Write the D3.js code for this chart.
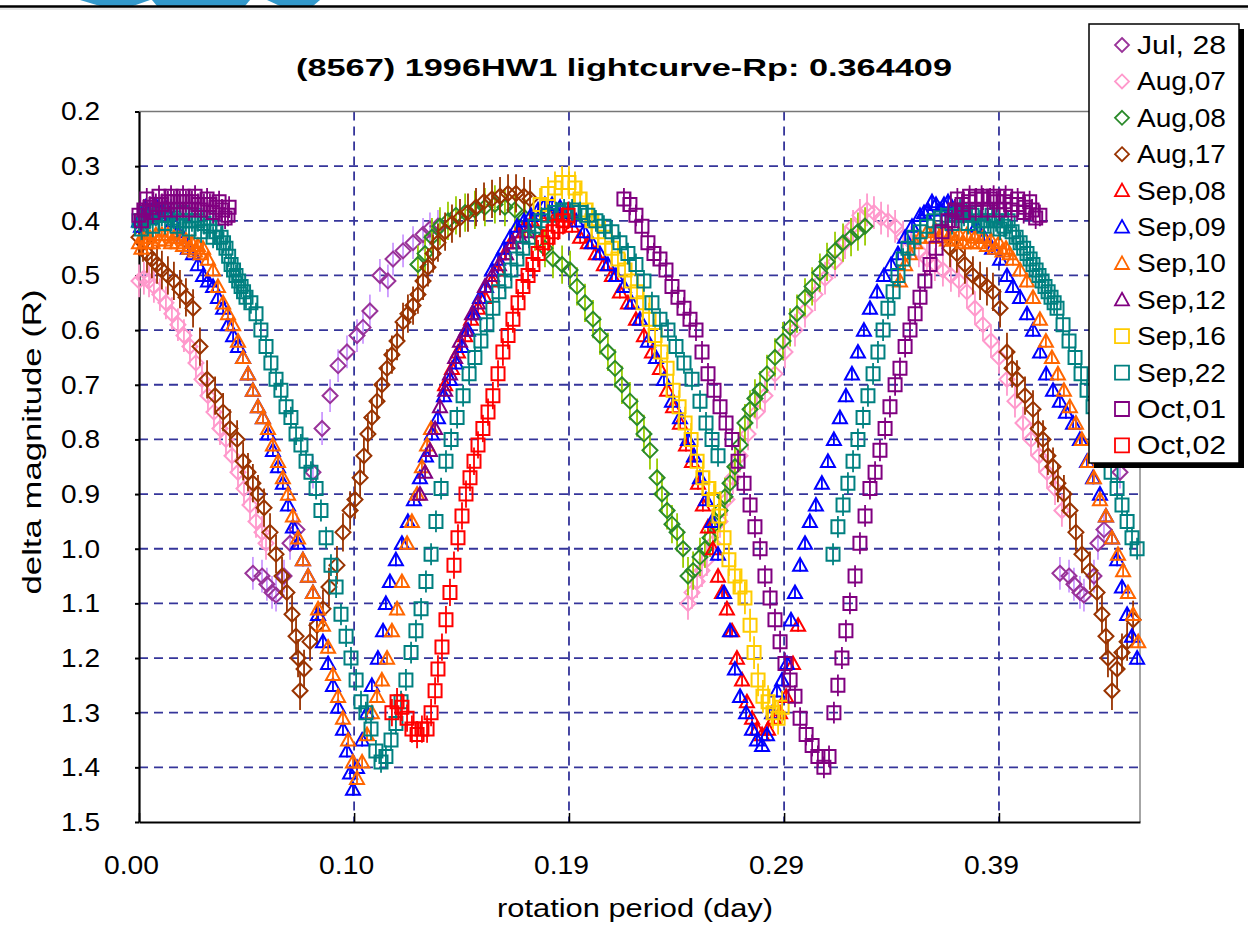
<!DOCTYPE html>
<html>
<head>
<meta charset="utf-8">
<script src="https://cdn.jsdelivr.net/npm/d3@7"></script>
<style>
  body { margin: 0; background: #fff; }
</style>
</head>
<body>
<div id="chart"></div>
<script>
// lightcurve of (8567) 1996HW1: [day, delta mag]
var jul28 = [[0.0512,1.045],[0.0553,1.050],[0.0575,1.065],[0.0598,1.080],[0.0616,1.085],[0.0652,1.050],[0.0679,0.990],[0.0710,0.965],[0.0782,0.860],[0.0823,0.780],[0.0859,0.720],[0.0895,0.665],[0.0935,0.640],[0.0980,0.610],[0.1007,0.595],[0.1038,0.565],[0.1083,0.500],[0.1119,0.510],[0.1142,0.470],[0.1187,0.455],[0.1232,0.440],[0.1277,0.425],[0.1308,0.415],[0.1344,0.410],
  [0.4140,1.045],[0.4181,1.050],[0.4203,1.065],[0.4230,1.080],[0.4248,1.085],[0.4293,1.050],[0.4311,0.990],[0.4338,0.965],[0.4410,0.860],[0.4451,0.780],[0.4487,0.720]];

var aug07 = [[0.0000,0.51],[0.0022,0.505],[0.0045,0.51],[0.0067,0.52],[0.0094,0.535],[0.0121,0.55],[0.0148,0.57],[0.0175,0.59],[0.0202,0.61],[0.0229,0.63],[0.0256,0.66],[0.0283,0.69],[0.0310,0.72],[0.0337,0.75],[0.0364,0.78],[0.0391,0.80],[0.0418,0.83],[0.0445,0.86],[0.0472,0.89],[0.0499,0.92],[0.0526,0.95],[0.0553,0.97],[0.0571,0.99],
  [0.2468,1.10],[0.2486,1.08],[0.2509,1.06],[0.2531,1.04],[0.2553,1.02],[0.2580,0.99],[0.2612,0.95],[0.2643,0.91],[0.2670,0.87],[0.2702,0.83],[0.2738,0.79],[0.2778,0.75],[0.2814,0.72],[0.2859,0.68],[0.2904,0.64],[0.2949,0.60],[0.2994,0.565],[0.3039,0.535],[0.3084,0.505],[0.3129,0.475],[0.3174,0.44],[0.3210,0.41],[0.3241,0.39],[0.3273,0.38],[0.3304,0.385],[0.3336,0.395],[0.3367,0.40],[0.3399,0.41],[0.3435,0.43],[0.3471,0.44],[0.3506,0.455],[0.3542,0.47],[0.3578,0.48],[0.3614,0.49],
  [0.3650,0.50],[0.3686,0.51],[0.3722,0.53],[0.3758,0.56],[0.3794,0.59],[0.3830,0.62],[0.3866,0.65],[0.3902,0.69],[0.3938,0.73],[0.3974,0.77],[0.4010,0.80],[0.4046,0.83],[0.4082,0.86],[0.4118,0.89],[0.4149,0.93]];

var aug08 = [[0.1254,0.48],[0.1286,0.46],[0.1317,0.43],[0.1353,0.41],[0.1389,0.40],[0.1425,0.39],[0.1466,0.385],[0.1510,0.38],[0.1555,0.375],[0.1600,0.37],[0.1645,0.375],[0.1690,0.38],[0.1735,0.395],[0.1780,0.42],[0.1825,0.45],[0.1861,0.47],[0.1902,0.48],[0.1938,0.49],[0.1969,0.52],[0.2005,0.55],[0.2041,0.58],[0.2072,0.61],[0.2108,0.64],[0.2140,0.67],[0.2171,0.70],[0.2207,0.73],[0.2239,0.76],[0.2270,0.79],[0.2297,0.82],[0.2329,0.87],[0.2351,0.90],[0.2374,0.93],[0.2396,0.955],[0.2419,0.97],[0.2446,1.00],[0.2468,1.05],
  [0.2491,1.04],[0.2522,1.015],[0.2544,1.00],[0.2567,0.98],[0.2589,0.955],[0.2612,0.93],[0.2634,0.905],[0.2657,0.88],[0.2679,0.85],[0.2702,0.81],[0.2724,0.77],[0.2747,0.745],[0.2769,0.725],[0.2792,0.71],[0.2823,0.68],[0.2859,0.65],[0.2895,0.62],[0.2927,0.595],[0.2958,0.57],[0.2994,0.54],[0.3026,0.52],[0.3061,0.495],[0.3093,0.475],[0.3129,0.455],[0.3165,0.44],[0.3201,0.43],[0.3232,0.42],[0.3264,0.41]];

var aug17 = [[0.0000,0.43],[0.0018,0.44],[0.0036,0.46],[0.0058,0.47],[0.0081,0.48],[0.0103,0.49],[0.0130,0.50],[0.0157,0.51],[0.0184,0.525],[0.0211,0.54],[0.0243,0.56],[0.0274,0.63],[0.0306,0.69],[0.0342,0.72],[0.0378,0.75],[0.0409,0.78],[0.0441,0.80],[0.0468,0.84],[0.0490,0.86],[0.0512,0.88],[0.0535,0.90],[0.0562,0.925],[0.0589,0.97],[0.0616,1.01],[0.0643,1.05],[0.0665,1.08],[0.0688,1.12],[0.0706,1.16],[0.0715,1.20],[0.0724,1.26],
  [0.0742,1.22],[0.0769,1.17],[0.0800,1.14],[0.0827,1.11],[0.0854,1.07],[0.0890,1.03],[0.0917,0.97],[0.0949,0.93],[0.0971,0.91],[0.0994,0.87],[0.1011,0.83],[0.1029,0.79],[0.1047,0.76],[0.1070,0.73],[0.1092,0.70],[0.1115,0.67],[0.1137,0.645],[0.1160,0.62],[0.1187,0.585],[0.1209,0.57],[0.1232,0.555],[0.1254,0.535],[0.1277,0.51],[0.1299,0.485],[0.1322,0.46],[0.1344,0.44],[0.1376,0.42],[0.1407,0.405],[0.1443,0.395],[0.1479,0.385],[0.1515,0.375],[0.1551,0.365],[0.1587,0.36],[0.1623,0.355],[0.1659,0.35],[0.1695,0.35],[0.1731,0.355],[0.1758,0.36],
  [0.3646,0.45],[0.3677,0.46],[0.3713,0.48],[0.3749,0.50],[0.3781,0.51],[0.3812,0.52],[0.3839,0.53],[0.3871,0.56],[0.3902,0.64],[0.3925,0.67],[0.3947,0.69],[0.3983,0.72],[0.4019,0.745],[0.4042,0.78],[0.4064,0.80],[0.4086,0.83],[0.4109,0.85],[0.4131,0.88],[0.4158,0.90],[0.4185,0.93],[0.4212,0.97],[0.4239,1.01],[0.4275,1.04],[0.4307,1.08],[0.4329,1.12],[0.4347,1.16],[0.4356,1.20],[0.4374,1.26],[0.4397,1.22],[0.4419,1.19],[0.4442,1.17],[0.4469,1.13]];

var sep08 = [[0.1376,0.70],[0.1407,0.67],[0.1434,0.64],[0.1466,0.61],[0.1493,0.58],[0.1524,0.56],[0.1555,0.54],[0.1587,0.51],[0.1614,0.49],[0.1645,0.46],[0.1672,0.44],[0.1704,0.42],[0.1735,0.41],[0.1767,0.40],[0.1803,0.39],[0.1839,0.385],[0.1875,0.39],[0.1911,0.40],[0.1947,0.41],[0.1983,0.43],[0.2018,0.44],[0.2054,0.46],[0.2090,0.48],[0.2126,0.50],[0.2162,0.53],[0.2198,0.55],[0.2234,0.58],[0.2270,0.61],[0.2306,0.64],[0.2342,0.67],[0.2374,0.71],[0.2401,0.74],[0.2432,0.77],[0.2459,0.81],[0.2486,0.84],[0.2513,0.88],[0.2535,0.92],[0.2558,0.96],[0.2580,1.00],[0.2603,1.05],[0.2621,1.08],[0.2643,1.11],[0.2666,1.15],[0.2688,1.20],[0.2711,1.24],[0.2733,1.28],[0.2756,1.31],[0.2778,1.33],[0.2801,1.34],[0.2828,1.33],[0.2855,1.31],[0.2882,1.30],[0.2909,1.27],[0.2940,1.21],[0.2963,1.14]];

var sep09 = [[0.0000,0.40],[0.0018,0.39],[0.0040,0.385],[0.0063,0.38],[0.0085,0.38],[0.0108,0.385],[0.0130,0.39],[0.0153,0.40],[0.0175,0.42],[0.0198,0.43],[0.0220,0.45],[0.0243,0.46],[0.0265,0.48],[0.0288,0.50],[0.0310,0.51],[0.0333,0.52],[0.0355,0.54],[0.0378,0.56],[0.0400,0.59],[0.0423,0.61],[0.0445,0.63],[0.0468,0.65],[0.0490,0.68],[0.0512,0.71],[0.0535,0.74],[0.0557,0.76],[0.0580,0.79],[0.0602,0.82],[0.0625,0.85],[0.0647,0.88],[0.0670,0.92],[0.0692,0.96],[0.0715,0.99],[0.0737,1.02],[0.0760,1.05],[0.0782,1.08],[0.0805,1.12],[0.0827,1.17],[0.0850,1.21],[0.0872,1.25],[0.0895,1.29],[0.0917,1.33],[0.0935,1.37],[0.0949,1.41],[0.0962,1.44],
  [0.0980,1.40],[0.1003,1.35],[0.1025,1.30],[0.1047,1.25],[0.1074,1.20],[0.1097,1.15],[0.1110,1.10],[0.1128,1.06],[0.1155,1.02],[0.1182,0.99],[0.1209,0.95],[0.1236,0.91],[0.1263,0.87],[0.1290,0.83],[0.1317,0.79],[0.1344,0.76],[0.1371,0.72],[0.1398,0.69],[0.1425,0.66],[0.1452,0.63],[0.1479,0.60],[0.1506,0.57],[0.1533,0.54],[0.1560,0.52],[0.1587,0.49],[0.1614,0.47],[0.1641,0.45],[0.1668,0.43],[0.1699,0.41],[0.1731,0.40],[0.1762,0.39],[0.1794,0.38],[0.1825,0.37],[0.1857,0.37],[0.1893,0.375],
  [0.1929,0.385],[0.1965,0.40],[0.2001,0.42],[0.2036,0.44],[0.2072,0.46],[0.2108,0.48],[0.2144,0.50],[0.2180,0.52],[0.2216,0.55],[0.2252,0.58],[0.2288,0.62],[0.2324,0.65],[0.2360,0.69],[0.2396,0.73],[0.2432,0.76],[0.2468,0.80],[0.2495,0.83],[0.2522,0.87],[0.2549,0.91],[0.2576,0.95],[0.2603,1.01],[0.2630,1.08],[0.2657,1.15],[0.2679,1.22],[0.2702,1.27],[0.2729,1.30],[0.2756,1.33],[0.2778,1.35],[0.2801,1.36],[0.2823,1.34],[0.2846,1.30],[0.2868,1.26],[0.2891,1.24],[0.2913,1.21],[0.2931,1.13],[0.2949,1.08],
  [0.2972,1.03],[0.2994,0.99],[0.3016,0.95],[0.3043,0.92],[0.3070,0.88],[0.3097,0.84],[0.3124,0.80],[0.3151,0.76],[0.3178,0.72],[0.3205,0.68],[0.3232,0.64],[0.3259,0.60],[0.3286,0.56],[0.3318,0.53],[0.3349,0.50],[0.3381,0.48],[0.3412,0.46],[0.3444,0.43],[0.3475,0.41],[0.3511,0.39],[0.3547,0.38],[0.3583,0.37],[0.3619,0.37],
  [0.3655,0.375],[0.3691,0.38],[0.3727,0.39],[0.3763,0.41],[0.3799,0.43],[0.3835,0.45],[0.3871,0.47],[0.3902,0.50],[0.3929,0.52],[0.3961,0.54],[0.3992,0.57],[0.4019,0.60],[0.4051,0.64],[0.4078,0.68],[0.4109,0.71],[0.4140,0.73],[0.4167,0.75],[0.4199,0.77],[0.4230,0.80],[0.4262,0.84],[0.4289,0.87],[0.4320,0.90],[0.4347,0.94],[0.4374,0.98],[0.4397,1.02],[0.4419,1.07],[0.4442,1.12],[0.4464,1.16],[0.4487,1.20],
  [0.0009,0.41],[0.0029,0.375],[0.0052,0.395],[0.0074,0.37],[0.0097,0.39],[0.0119,0.375],[0.3529,0.385],[0.3565,0.365],[0.3601,0.38],[0.3637,0.365],[0.3673,0.385]];

var sep10 = [[0.0000,0.44],[0.0022,0.43],[0.0049,0.43],[0.0076,0.425],[0.0103,0.425],[0.0130,0.425],[0.0157,0.43],[0.0184,0.43],[0.0211,0.435],[0.0238,0.44],[0.0265,0.445],[0.0288,0.45],[0.0310,0.47],[0.0333,0.49],[0.0355,0.52],[0.0378,0.55],[0.0400,0.57],[0.0423,0.59],[0.0445,0.62],[0.0468,0.65],[0.0490,0.68],[0.0512,0.71],[0.0535,0.74],[0.0557,0.76],[0.0580,0.78],[0.0602,0.81],[0.0625,0.84],[0.0647,0.87],[0.0670,0.90],[0.0692,0.94],[0.0715,0.98],[0.0737,1.02],[0.0760,1.05],[0.0782,1.08],[0.0805,1.11],[0.0827,1.14],[0.0850,1.18],[0.0872,1.23],[0.0895,1.27],[0.0917,1.31],[0.0940,1.35],[0.0962,1.39],[0.0980,1.42],
  [0.1003,1.39],[0.1025,1.34],[0.1047,1.30],[0.1070,1.27],[0.1092,1.24],[0.1115,1.20],[0.1137,1.15],[0.1160,1.11],[0.1182,1.06],[0.1205,0.99],[0.1227,0.95],[0.1250,0.90],[0.1272,0.85],[0.1295,0.81],[0.1313,0.78],
  [0.3421,0.51],[0.3444,0.48],[0.3466,0.46],[0.3489,0.44],[0.3511,0.43],[0.3542,0.42],[0.3578,0.415],[0.3614,0.42],[0.3650,0.425],[0.3686,0.425],[0.3722,0.425],[0.3758,0.43],[0.3794,0.43],[0.3830,0.435],[0.3866,0.44],[0.3898,0.45],[0.3929,0.47],[0.3961,0.49],[0.3992,0.51],[0.4019,0.54],[0.4050,0.58],[0.4077,0.62],[0.4104,0.65],[0.4131,0.68],[0.4158,0.71],[0.4185,0.74],[0.4212,0.77],[0.4239,0.80],[0.4266,0.84],[0.4293,0.87],[0.4320,0.91],[0.4347,0.94],[0.4374,0.98],[0.4401,1.01],[0.4424,1.04],[0.4446,1.08],[0.4469,1.12],[0.4492,1.17],
  [0.0011,0.45],[0.0035,0.44],[0.0062,0.44],[0.0090,0.435],[0.0117,0.435],[0.0144,0.44],[0.0171,0.44],[0.0198,0.445],[0.0225,0.45],[0.0252,0.455],[0.0277,0.46],
  [0.3560,0.43],[0.3596,0.43],[0.3632,0.435],[0.3668,0.435],[0.3704,0.44],[0.3740,0.44],[0.3776,0.44],[0.3812,0.445],[0.3848,0.45],[0.3882,0.455],[0.3914,0.46]];

var sep12 = [[0.1263,0.90],[0.1286,0.86],[0.1308,0.82],[0.1331,0.78],[0.1353,0.74],[0.1376,0.71],[0.1398,0.68],[0.1421,0.65],[0.1443,0.62],[0.1470,0.60],[0.1497,0.57],[0.1524,0.55],[0.1555,0.52],[0.1587,0.50],[0.1618,0.48],[0.1650,0.46],[0.1681,0.44],[0.1713,0.43],[0.1749,0.42]];

var sep16 = [[0.1803,0.37],[0.1839,0.35],[0.1870,0.34],[0.1902,0.33],[0.1933,0.33],[0.1960,0.34],[0.1983,0.36],[0.2010,0.38],[0.2036,0.40],[0.2063,0.42],[0.2095,0.43],[0.2126,0.45],[0.2153,0.47],[0.2185,0.49],[0.2212,0.51],[0.2239,0.53],[0.2266,0.55],[0.2293,0.58],[0.2320,0.61],[0.2347,0.64],[0.2374,0.67],[0.2401,0.71],[0.2428,0.74],[0.2455,0.77],[0.2482,0.80],[0.2509,0.84],[0.2535,0.87],[0.2562,0.89],[0.2585,0.91],[0.2607,0.94],[0.2630,0.98],[0.2652,1.02],[0.2679,1.05],[0.2702,1.07],[0.2724,1.09],[0.2747,1.14],[0.2765,1.19],[0.2783,1.24],[0.2805,1.27],[0.2828,1.28],[0.2850,1.30],[0.2873,1.31],[0.2891,1.29]];

var sep22 = [[0.0000,0.40],[0.0022,0.40],[0.0049,0.395],[0.0076,0.39],[0.0103,0.39],[0.0130,0.39],[0.0157,0.395],[0.0184,0.40],[0.0211,0.40],[0.0238,0.40],[0.0265,0.40],[0.0292,0.405],[0.0319,0.41],[0.0346,0.42],[0.0369,0.43],[0.0391,0.45],[0.0414,0.48],[0.0436,0.50],[0.0459,0.52],[0.0481,0.54],[0.0503,0.55],[0.0526,0.57],[0.0548,0.60],[0.0571,0.63],[0.0593,0.66],[0.0616,0.69],[0.0638,0.71],[0.0661,0.74],[0.0683,0.76],[0.0706,0.79],[0.0728,0.81],[0.0751,0.84],[0.0773,0.86],[0.0796,0.89],[0.0818,0.93],[0.0841,0.98],[0.0863,1.03],[0.0886,1.07],[0.0908,1.12],[0.0931,1.16],[0.0953,1.20],[0.0976,1.24],[0.0998,1.28],[0.1020,1.30],[0.1043,1.33],[0.1065,1.37],[0.1088,1.39],
  [0.1110,1.38],[0.1133,1.35],[0.1155,1.32],[0.1178,1.28],[0.1200,1.24],[0.1223,1.19],[0.1245,1.15],[0.1268,1.11],[0.1290,1.06],[0.1313,1.01],[0.1335,0.95],[0.1358,0.89],[0.1380,0.84],[0.1403,0.80],[0.1430,0.76],[0.1457,0.72],[0.1484,0.68],[0.1510,0.65],[0.1537,0.62],[0.1564,0.59],[0.1591,0.56],[0.1618,0.53],[0.1645,0.51],[0.1672,0.49],[0.1699,0.47],[0.1726,0.45],[0.1753,0.43],[0.1780,0.41],[0.1807,0.40],[0.1839,0.39],[0.1875,0.385],[0.1911,0.38],[0.1947,0.38],
  [0.1983,0.385],[0.2018,0.39],[0.2054,0.40],[0.2090,0.41],[0.2126,0.42],[0.2162,0.44],[0.2198,0.46],[0.2234,0.48],[0.2270,0.51],[0.2306,0.55],[0.2342,0.58],[0.2378,0.60],[0.2414,0.63],[0.2450,0.66],[0.2486,0.69],[0.2522,0.73],[0.2549,0.77],[0.2576,0.80],[0.2603,0.83],
  [0.3120,1.01],[0.3142,0.96],[0.3165,0.92],[0.3187,0.88],[0.3210,0.84],[0.3232,0.80],[0.3255,0.76],[0.3277,0.72],[0.3300,0.68],[0.3322,0.64],[0.3345,0.60],[0.3367,0.56],[0.3390,0.53],[0.3412,0.50],[0.3435,0.47],[0.3457,0.45],[0.3484,0.43],[0.3511,0.42],[0.3542,0.41],[0.3574,0.40],[0.3605,0.395],[0.3637,0.39],
  [0.3673,0.39],[0.3709,0.39],[0.3745,0.39],[0.3781,0.40],[0.3817,0.40],[0.3853,0.40],[0.3889,0.41],[0.3925,0.42],[0.3961,0.44],[0.3992,0.46],[0.4019,0.48],[0.4046,0.50],[0.4073,0.52],[0.4100,0.54],[0.4127,0.56],[0.4154,0.59],[0.4181,0.62],[0.4208,0.65],[0.4235,0.68],[0.4262,0.71],[0.4289,0.74],[0.4316,0.78],[0.4343,0.82],[0.4370,0.86],[0.4397,0.89],[0.4419,0.92],[0.4442,0.95],[0.4464,0.98],[0.4487,1.00],
  [0.0011,0.415],[0.0035,0.385],[0.0062,0.41],[0.0090,0.38],[0.0117,0.405],[0.0144,0.38],[0.0171,0.41],[0.0198,0.385],[0.0225,0.415],[0.0252,0.39],[0.0279,0.42],[0.0306,0.395],[0.0333,0.43],[0.0380,0.44],[0.0403,0.465],[0.0425,0.49],[0.0448,0.51],[0.0470,0.53],
  [0.3655,0.405],[0.3691,0.38],[0.3727,0.405],[0.3763,0.385],[0.3799,0.41],[0.3835,0.39],[0.3871,0.415],[0.3907,0.40],[0.3943,0.43],[0.3977,0.45],[0.4006,0.47],[0.4033,0.49],[0.4060,0.51],[0.4087,0.53],[0.4114,0.55]];

var oct01 = [[0.0000,0.39],[0.0022,0.38],[0.0049,0.375],[0.0076,0.37],[0.0103,0.37],[0.0130,0.365],[0.0157,0.365],[0.0184,0.365],[0.0211,0.365],[0.0238,0.365],[0.0265,0.37],[0.0292,0.37],[0.0319,0.37],[0.0346,0.375],[0.0373,0.38],[0.0400,0.39],
  [0.2180,0.36],[0.2207,0.37],[0.2234,0.39],[0.2261,0.41],[0.2288,0.44],[0.2315,0.46],[0.2342,0.47],[0.2369,0.49],[0.2396,0.52],[0.2423,0.54],[0.2450,0.56],[0.2477,0.58],[0.2504,0.60],[0.2531,0.64],[0.2558,0.68],[0.2585,0.71],[0.2612,0.74],[0.2639,0.77],[0.2666,0.80],[0.2693,0.84],[0.2720,0.88],[0.2747,0.92],[0.2769,0.96],[0.2792,1.00],[0.2814,1.05],[0.2837,1.09],[0.2859,1.13],[0.2882,1.17],[0.2904,1.21],[0.2927,1.24],[0.2949,1.27],[0.2972,1.31],[0.2999,1.34],[0.3026,1.36],[0.3052,1.38],[0.3079,1.40],
  [0.3102,1.38],[0.3124,1.30],[0.3142,1.25],[0.3160,1.20],[0.3178,1.15],[0.3196,1.10],[0.3219,1.05],[0.3241,0.99],[0.3264,0.94],[0.3286,0.89],[0.3309,0.86],[0.3331,0.82],[0.3354,0.78],[0.3376,0.74],[0.3399,0.70],[0.3421,0.67],[0.3444,0.63],[0.3466,0.60],[0.3489,0.57],[0.3511,0.54],[0.3533,0.51],[0.3556,0.48],[0.3583,0.45],[0.3610,0.42],[0.3637,0.40],
  [0.3668,0.38],[0.3700,0.37],[0.3731,0.365],[0.3763,0.36],[0.3794,0.36],[0.3826,0.36],[0.3857,0.365],[0.3889,0.365],[0.3920,0.37],[0.3952,0.37],[0.3983,0.375],[0.4015,0.38],[0.4050,0.39],
  [0.0011,0.40],[0.0035,0.36],[0.0062,0.385],[0.0090,0.355],[0.0117,0.38],[0.0144,0.355],[0.0171,0.38],[0.0198,0.355],[0.0225,0.38],[0.0252,0.355],[0.0279,0.38],[0.0306,0.36],[0.0333,0.385],[0.0360,0.365],[0.0387,0.395],[0.0405,0.375],
  [0.3655,0.40],[0.3679,0.36],[0.3706,0.385],[0.3734,0.355],[0.3761,0.38],[0.3788,0.355],[0.3815,0.38],[0.3842,0.355],[0.3869,0.38],[0.3896,0.355],[0.3923,0.38],[0.3950,0.36],[0.3977,0.385],[0.4004,0.365],[0.4031,0.395]];

var oct02 = [[0.1137,1.30],[0.1160,1.28],[0.1182,1.29],[0.1205,1.31],[0.1227,1.33],[0.1250,1.34],[0.1272,1.33],[0.1295,1.33],[0.1313,1.30],[0.1331,1.26],[0.1344,1.22],[0.1362,1.18],[0.1380,1.13],[0.1398,1.08],[0.1416,1.03],[0.1434,0.98],[0.1452,0.94],[0.1470,0.90],[0.1488,0.87],[0.1506,0.84],[0.1524,0.81],[0.1546,0.78],[0.1569,0.75],[0.1591,0.72],[0.1614,0.68],[0.1636,0.64],[0.1659,0.61],[0.1681,0.58],[0.1704,0.55],[0.1726,0.52],[0.1749,0.50],[0.1771,0.48],[0.1794,0.46],[0.1816,0.44],[0.1839,0.43],[0.1861,0.42],[0.1884,0.41],[0.1906,0.40],[0.1929,0.39]];

var seriesNames = ["Jul, 28", "Aug,07", "Aug,08", "Aug,17", "Sep,08", "Sep,09", "Sep,10", "Sep,12", "Sep,16", "Sep,22", "Oct,01", "Oct,02"];
var seriesData = [jul28, aug07, aug08, aug17, sep08, sep09, sep10, sep12, sep16, sep22, oct01, oct02];
// half length of the y error bars, magnitudes
var errHalf = [0.03, 0.03, 0.035, 0.035, 0.012, 0.012, 0.012, 0.012, 0.03, 0.02, 0.02, 0.025];

var yTicks = [0.2, 0.3, 0.4, 0.5, 0.6, 0.7, 0.8, 0.9, 1.0, 1.1, 1.2, 1.3, 1.4, 1.5];
var xTickValues = [0, 0.0967, 0.1933, 0.2900, 0.3866];
var xTickLabels = ["0.00", "0.10", "0.19", "0.29", "0.39"];

(function() {
  // styles
  var shapes = ["diamond", "diamond", "diamond", "diamond", "triangle", "triangle", "triangle", "triangle", "square", "square", "square", "square"];
  var colors = ["#993399", "#ff99cc", "#2a8a2a", "#993300", "#ff0000", "#0000ff", "#ff6600", "#800080", "#ffcc00", "#008080", "#800080", "#ff0000"];
  var barColors = ["#cc99ff", "#ff99cc", "#99cc00", "#993300", "#ff0000", "#0000ff", "#ff6600", "#800080", "#ffcc00", "#008080", "#800080", "#ff0000"];

  var FONT = "'Liberation Sans Narrow', 'Liberation Sans', Arial, sans-serif";

  var width = 1248, height = 940;
  var plotLeft = 139, plotRight = 1140, plotTop = 111.5, plotBottom = 822;

  var x = d3.scaleLinear().domain([0, 0.45]).range([plotLeft, plotRight]);
  var y = d3.scaleLinear().domain([0.2, 1.5]).range([plotTop, plotBottom]);

  var svg = d3.select("#chart").append("svg")
    .attr("width", width)
    .attr("height", height)
    .style("display", "block");

  svg.append("rect").attr("width", width).attr("height", height).attr("fill", "#fff");

  // remains of the page header above the chart
  var header = svg.append("g").attr("fill", "#3399cc");
  header.append("path").attr("d", "M80,0 L150,0 L133,6 L100,6 Z");
  header.append("path").attr("d", "M152,0 L250,0 L245,6 L157,6 Z");
  header.append("path").attr("d", "M267,0 L320,0 L313,6 L280,6 Z");
  svg.append("line").attr("x1", 0).attr("x2", width).attr("y1", 6.5).attr("y2", 6.5)
    .attr("stroke", "#000").attr("stroke-width", 2.5);
  svg.append("line").attr("x1", 0).attr("x2", width).attr("y1", 9).attr("y2", 9)
    .attr("stroke", "#ccc").attr("stroke-width", 1);

  // grid
  var grid = svg.append("g")
    .attr("stroke", "#35359a")
    .attr("stroke-width", 1.8)
    .attr("stroke-dasharray", "9,6");

  grid.selectAll("line.h")
    .data(yTicks.filter(function(d) { return d > 0.25 && d < 1.45; }))
    .enter().append("line")
    .attr("class", "h")
    .attr("x1", plotLeft).attr("x2", plotRight)
    .attr("y1", function(d) { return y(d); })
    .attr("y2", function(d) { return y(d); });

  grid.selectAll("line.v")
    .data(xTickValues.slice(1))
    .enter().append("line")
    .attr("class", "v")
    .attr("x1", function(d) { return x(d); })
    .attr("x2", function(d) { return x(d); })
    .attr("y1", plotTop).attr("y2", plotBottom);

  // plot frame, top and right in grey
  svg.append("line").attr("x1", plotLeft).attr("x2", plotRight).attr("y1", plotTop).attr("y2", plotTop)
    .attr("stroke", "#777").attr("stroke-width", 1.5);
  svg.append("line").attr("x1", plotRight).attr("x2", plotRight).attr("y1", plotTop).attr("y2", plotBottom)
    .attr("stroke", "#888").attr("stroke-width", 1.5);

  // axes
  var yAxis = svg.append("g")
    .attr("transform", "translate(" + plotLeft + ",0)")
    .call(d3.axisLeft(y).tickValues(yTicks).tickFormat(d3.format(".1f"))
      .tickSizeInner(4).tickSizeOuter(0).tickPadding(35));
  yAxis.attr("font-family", FONT).attr("font-size", 26);
  yAxis.select(".domain").attr("stroke", "#000").attr("stroke-width", 2.2);
  yAxis.selectAll(".tick line").attr("stroke", "#000").attr("stroke-width", 2);
  yAxis.selectAll("text")
    .attr("fill", "#000")
    .attr("textLength", 39)
    .attr("lengthAdjust", "spacingAndGlyphs");

  var xAxis = svg.append("g")
    .attr("transform", "translate(0," + plotBottom + ")")
    .call(d3.axisBottom(x).tickValues(xTickValues)
      .tickFormat(function(d, i) { return xTickLabels[i]; })
      .tickSizeInner(-9).tickSizeOuter(0).tickPadding(34));
  xAxis.attr("font-family", FONT).attr("font-size", 26);
  xAxis.select(".domain").attr("stroke", "#000").attr("stroke-width", 2.2);
  xAxis.selectAll(".tick line").attr("stroke", "#000").attr("stroke-width", 1.5);
  xAxis.selectAll("text")
    .attr("fill", "#000")
    .attr("x", -8)
    .attr("textLength", 55)
    .attr("lengthAdjust", "spacingAndGlyphs");

  // titles
  svg.append("text")
    .text("(8567) 1996HW1 lightcurve-Rp: 0.364409")
    .attr("x", 624).attr("y", 76)
    .attr("text-anchor", "middle")
    .attr("font-family", FONT)
    .attr("font-weight", "bold")
    .attr("font-size", 24)
    .attr("textLength", 656)
    .attr("lengthAdjust", "spacingAndGlyphs");

  svg.append("text")
    .text("rotation period (day)")
    .attr("x", 635).attr("y", 917)
    .attr("text-anchor", "middle")
    .attr("font-family", FONT)
    .attr("font-size", 25)
    .attr("textLength", 276)
    .attr("lengthAdjust", "spacingAndGlyphs");

  svg.append("text")
    .text("delta magnitude (R)")
    .attr("transform", "translate(41,442) rotate(-90)")
    .attr("text-anchor", "middle")
    .attr("font-family", FONT)
    .attr("font-size", 25)
    .attr("textLength", 305)
    .attr("lengthAdjust", "spacingAndGlyphs");

  function markerPath(shape, s) {
    if (shape == "diamond") {
      return "M0," + (-s) + "L" + s + ",0L0," + s + "L" + (-s) + ",0Z";
    }
    if (shape == "triangle") {
      return "M0," + (-s) + "L" + s + "," + (s * 0.8) + "L" + (-s) + "," + (s * 0.8) + "Z";
    }
    return "M" + (-s) + "," + (-s) + "h" + (2 * s) + "v" + (2 * s) + "h" + (-2 * s) + "Z";
  }

  var markerSize = { diamond: 7.5, triangle: 7, square: 6.5 };

  // series, in legend order so the later dates sit on top
  seriesData.forEach(function(data, i) {
    var g = svg.append("g");
    var e = errHalf[i];

    g.selectAll("line")
      .data(data)
      .enter().append("line")
      .attr("x1", function(d) { return x(d[0]); })
      .attr("x2", function(d) { return x(d[0]); })
      .attr("y1", function(d) { return y(d[1] - e); })
      .attr("y2", function(d) { return y(d[1] + e); })
      .attr("stroke", barColors[i])
      .attr("stroke-width", 1.8);

    g.selectAll("path")
      .data(data)
      .enter().append("path")
      .attr("d", markerPath(shapes[i], markerSize[shapes[i]]))
      .attr("transform", function(d) { return "translate(" + x(d[0]) + "," + y(d[1]) + ")"; })
      .attr("fill", "none")
      .attr("stroke", colors[i])
      .attr("stroke-width", 2);
  });

  // legend
  var legend = svg.append("g");
  legend.append("rect")
    .attr("x", 1094).attr("y", 29).attr("width", 150).attr("height", 439)
    .attr("fill", "#000");
  legend.append("rect")
    .attr("x", 1089).attr("y", 24).attr("width", 150).attr("height", 439)
    .attr("fill", "#fff").attr("stroke", "#000").attr("stroke-width", 1.5);

  var rows = legend.selectAll("g.row")
    .data(seriesNames)
    .enter().append("g")
    .attr("class", "row")
    .attr("transform", function(d, i) { return "translate(0," + (45 + i * 36.4) + ")"; });

  rows.append("path")
    .attr("d", function(d, i) { return markerPath(shapes[i], 7); })
    .attr("transform", "translate(1122,0)")
    .attr("fill", "none")
    .attr("stroke", function(d, i) { return colors[i]; })
    .attr("stroke-width", 1.8);

  rows.append("text")
    .text(function(d) { return d; })
    .attr("x", 1137).attr("y", 9)
    .attr("font-family", FONT)
    .attr("font-size", 25)
    .attr("textLength", 89)
    .attr("lengthAdjust", "spacingAndGlyphs");
})();
</script>
</body>
</html>
